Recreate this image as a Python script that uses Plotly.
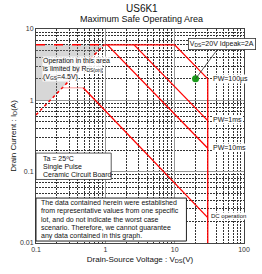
import math
import plotly.graph_objects as go

# ---------------- data ----------------
x_ticks = [0.1, 1, 10, 100]
x_tick_labels = ["0.1", "1", "10", "100"]
y_ticks = [0.01, 0.1, 1, 10]
y_tick_labels = ["0.01", "0.1", "1", "10"]
minor_x = [m * d for d in (0.1, 1, 10) for m in range(2, 10)]
minor_y = [m * d for d in (0.01, 0.1, 1) for m in range(2, 10)]

# RDS(on) limit and pulsed current limit (dashed part)
vds_rds = [0.1, 0.96]
id_rds = [0.625, 6.0]
vds_idp_dash = [0.1, 0.96]
id_idp_dash = [6.0, 6.0]
# shaded RDS(on)-limited region
vds_region = [0.1, 0.96, 0.16, 0.1, 0.1]
id_region = [6.0, 6.0, 1.0, 1.0, 6.0]
# safe operating boundaries
vds_100us = [0.96, 10, 30]
id_100us = [6.0, 6.0, 2.0]
vds_1ms = [2.6, 30]
id_1ms = [6.0, 0.52]
vds_10ms = [1.07, 30]
id_10ms = [6.0, 0.213]
vds_dc_limit = [0.24, 0.48]
id_dc_limit = [1.5, 1.5]
vds_dc = [0.48, 30]
id_dc = [1.5, 0.0227]
vds_vdss = [30, 30]
id_vdss = [2.0, 0.01]
# operating point
vds_point = [20]
id_point = [2]

disclaimer = [
    "The data contained herein were established",
    "from representative values from one specific",
    "lot, and do not indicate the worst case",
    "scenario. Therefore, we cannot guarantee",
    "any data contained in this graph.",
]
cond_lines = ["Ta = 25ºC", "Single Pulse", "Ceramic Circuit Board"]
rds_lines = ["Operation in this area", "is limited by R<sub>DS(on)</sub>", "(V<sub>GS</sub>=4.5V)"]

# ---------------- layout helpers ----------------
W, H = 262, 274
L, R, T, B = 26, 12, 29, 26
PW, PH = W - L - R, H - T - B
def px(x):
    return (x - L) / PW
def py(y):
    return (H - B - y) / PH

RED = "#ff0000"
FONT = "Arial, Liberation Sans, sans-serif"

fig = go.Figure()
fig.add_trace(go.Scatter(x=vds_region, y=id_region, fill="toself", mode="none",
                         fillcolor="rgba(140,140,140,0.35)", hoverinfo="skip"))
fig.add_trace(go.Scatter(x=vds_rds, y=id_rds, mode="lines",
                         line=dict(color=RED, width=1.5, dash="dot")))
fig.add_trace(go.Scatter(x=vds_idp_dash, y=id_idp_dash, mode="lines",
                         line=dict(color=RED, width=1.5, dash="dash")))
for xs, ys in [(vds_100us, id_100us), (vds_1ms, id_1ms), (vds_10ms, id_10ms),
               (vds_dc, id_dc), (vds_vdss, id_vdss)]:
    fig.add_trace(go.Scatter(x=xs, y=ys, mode="lines", line=dict(color=RED, width=1.3)))
fig.add_trace(go.Scatter(x=vds_dc_limit, y=id_dc_limit, mode="lines",
                         line=dict(color="rgba(255,80,80,0.45)", width=1.3)))
fig.add_trace(go.Scatter(x=vds_point, y=id_point, mode="markers",
                         marker=dict(color="#1a9a1a", size=7)))

ann = []
def text(x, y, s, size=7, anchor="left", **kw):
    ann.append(dict(x=px(x), y=py(y), xref="paper", yref="paper", text=s, showarrow=False,
                    xanchor=anchor, yanchor="middle", font=dict(size=size, color="#111", family=FONT), **kw))

# titles
text(140, 8, "US6K1", size=10, anchor="center")
text(140, 19, "Maximum Safe Operating Area", size=9, anchor="center")

# RDS(on) region text
for i, s in enumerate(rds_lines):
    text(32, 62 + 8 * i, s, size=7, bgcolor="rgba(255,255,255,0.85)", borderpad=0)

# curve labels
text(215, 80, "PW=100µs", size=7, bgcolor="white", borderpad=0)
text(215, 122, "PW=1ms", size=7, bgcolor="white", borderpad=0)
text(215, 150, "PW=10ms", size=7, bgcolor="white", borderpad=0)
text(213, 220, "DC operation", size=6, bgcolor="white", borderpad=0)

# operating point annotation
ann.append(dict(x=math.log10(vds_point[0]), y=math.log10(id_point[0]), xref="x", yref="y",
                text="V<sub>DS</sub>=20V Idpeak=2A", showarrow=True, arrowhead=0, arrowwidth=0.8,
                arrowcolor="#333", ax=26, ay=-35, bgcolor="white", bordercolor="#333",
                borderwidth=0.8, borderpad=1, font=dict(size=7, color="#111", family=FONT)))

# boxes
shapes = [
    dict(type="rect", xref="paper", yref="paper", x0=px(26), x1=px(107), y0=py(183), y1=py(156),
         fillcolor="white", line=dict(color="#333", width=0.8), layer="above"),
    dict(type="rect", xref="paper", yref="paper", x0=px(26), x1=px(188), y0=py(246), y1=py(202),
         fillcolor="white", line=dict(color="#222", width=1), layer="above"),
]
for i, s in enumerate(cond_lines):
    text(31, 162 + 8 * i, s, size=7)
for i, s in enumerate(disclaimer):
    text(29, 207 + 8.5 * i, s, size=7)

fig.update_layout(
    width=W, height=H, margin=dict(l=L, r=R, t=T, b=B),
    paper_bgcolor="white", plot_bgcolor="white", showlegend=False,
    font=dict(family=FONT, size=7, color="#333"),
    annotations=ann, shapes=shapes,
)
grid_minor = dict(showgrid=True, gridcolor="#333", gridwidth=0.6, griddash="2px,1px")
fig.update_xaxes(
    type="log", range=[-1, 2], tickvals=x_ticks, ticktext=x_tick_labels,
    showgrid=True, gridcolor="#999", gridwidth=1.2, ticks="", showline=True,
    linecolor="#444", mirror=True, tickfont=dict(size=7, color="#333"),
    minor=dict(tickvals=minor_x, **grid_minor),
    title=dict(text="Drain-Source Voltage : V<sub>DS</sub>(V)", font=dict(size=8, color="#111"), standoff=3),
)
fig.update_yaxes(
    type="log", range=[-2, 1], tickvals=y_ticks, ticktext=y_tick_labels,
    showgrid=True, gridcolor="#999", gridwidth=1.2, ticks="", showline=True,
    linecolor="#444", mirror=True, tickfont=dict(size=7, color="#333"),
    minor=dict(tickvals=minor_y, **grid_minor),
    title=dict(text="Drain Current : I<sub>D</sub>(A)", font=dict(size=8, color="#111"), standoff=2),
)
fig.write_html("out.html")
